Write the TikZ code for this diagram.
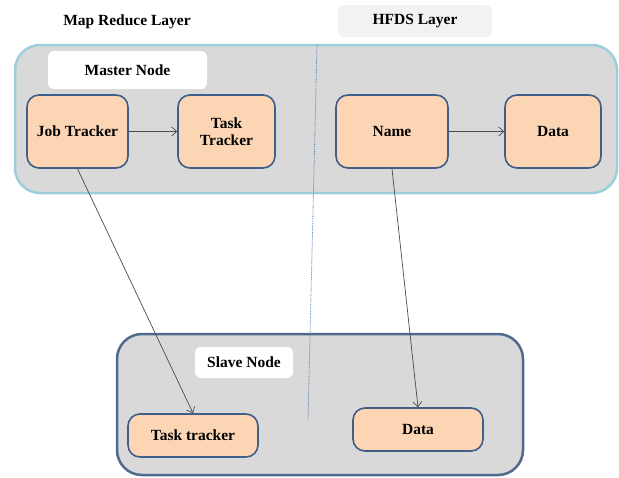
\documentclass[tikz,border=0pt]{standalone}
\usepackage{fontspec}
\setmainfont{Liberation Serif}
\usetikzlibrary{positioning,arrows.meta}

\definecolor{peach}{HTML}{FCD5B4}
\definecolor{boxline}{HTML}{3F5F89}
\definecolor{layergray}{HTML}{D9D9D9}
\definecolor{topline}{HTML}{9CCFD9}
\definecolor{botline}{HTML}{4F6A8C}
\definecolor{tabgray}{HTML}{F2F2F2}
\definecolor{arrowgray}{HTML}{4A4A4A}
\definecolor{splitblue}{HTML}{4F7CAF}

\begin{document}
\begin{tikzpicture}[x=1pt, y=-1pt,
                    every node/.style={font=\fontsize{15.5}{17.5}\selectfont\bfseries},
                    layer/.style={rectangle,rounded corners=25pt,fill=layergray,line width=2.5pt},
                    tag/.style={rectangle,rounded corners=6pt,fill=white},
                    box/.style={rectangle,rounded corners=12pt,draw=boxline,line width=1.6pt,fill=peach,align=center},
                    link/.style={-{Straight Barb[length=5pt,width=9pt]},draw=arrowgray,line width=0.7pt}]

\useasboundingbox (0,0) rectangle (619,477);

% layers
\node[layer,draw=topline,minimum width=602pt,minimum height=148pt] (master) at (316,119) {};
\node[layer,draw=botline,minimum width=406pt,minimum height=141pt] (slave) at (320,404.5) {};

% titles
\node (mapred) at (127,22) {Map Reduce Layer};
\node[tag,fill=tabgray,minimum width=154pt,minimum height=32pt] (hfds) at (415,21) {HFDS Layer};
\node[tag,minimum width=159pt,minimum height=38pt] (mastertag) at (127.5,70) {Master Node};
\node[tag,minimum width=98pt,minimum height=31pt] (slavetag) at (244,362.5) {Slave Node};

% split between the two layers
\coordinate (splittop) at (317,45);
\coordinate (splitbot) at (308,420);
\draw[splitblue,densely dotted,line width=0.8pt] (splittop) -- (splitbot);

% master node
\node[box,minimum width=101pt,minimum height=73pt] (jobtr) at (77.5,131.5) {Job Tracker};
\node[box,minimum width=97pt,minimum height=73pt] (tasktr) at (226.5,131.5) {Task\\Tracker};
\node[box,minimum width=112pt,minimum height=73pt] (name) at (392,131.5) {Name};
\node[box,minimum width=96pt,minimum height=73pt] (data) at (553,131.5) {Data};

% slave node
\node[box,minimum width=130pt,minimum height=43pt] (slavetask) at (193,435.5) {Task tracker};
\node[box,minimum width=130pt,minimum height=43pt] (slavedata) at (418,429.5) {Data};

\draw[link] (jobtr) -- (tasktr);
\draw[link] (name) -- (data);
\draw[link] (jobtr.south) -- (slavetask.north);
\draw[link] (name.south) -- (slavedata.north);

\end{tikzpicture}
\end{document}
